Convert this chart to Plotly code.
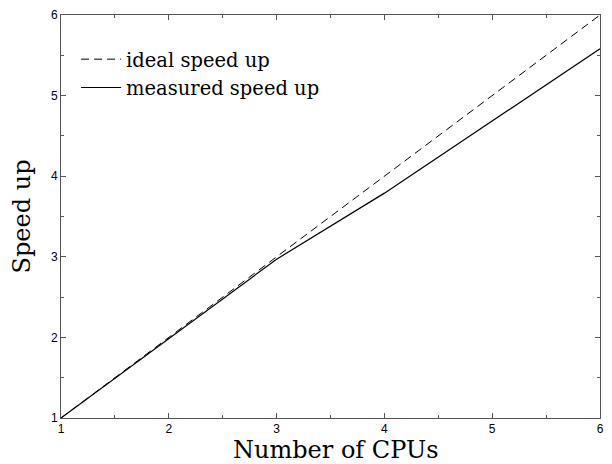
import plotly.graph_objects as go

cpus = [1, 2, 3, 4, 5, 6]
ideal = [1, 2, 3, 4, 5, 6]
measured = [1, 1.98, 2.97, 3.79, 4.69, 5.58]

x_title = "Number of CPUs"
y_title = "Speed up"

fig = go.Figure()
fig.add_trace(go.Scatter(x=cpus, y=ideal, mode="lines", name="ideal speed up",
                         line=dict(color="black", width=1, dash="8px,5px")))
fig.add_trace(go.Scatter(x=cpus, y=measured, mode="lines", name="measured speed up",
                         line=dict(color="black", width=1.2)))

serif = "DejaVu Serif, Liberation Serif, serif"

axis_common = dict(
    showgrid=False, zeroline=False, showline=True, linecolor="#555", linewidth=1,
    mirror="allticks", ticks="inside", ticklen=5, tickcolor="#555",
    tickfont=dict(family="Liberation Sans, Arial", size=12, color="black"),
    dtick=1, automargin=False,
    minor=dict(ticks="inside", ticklen=3, dtick=0.5, tickcolor="#555", showgrid=False),
)

fig.update_xaxes(range=[1, 6], tick0=1, **axis_common)
fig.update_yaxes(range=[1, 6], tick0=1, **axis_common)

fig.add_annotation(text=x_title, xref="paper", yref="paper", x=0.51, y=0,
                   xanchor="center", yanchor="middle", yshift=-32, showarrow=False,
                   font=dict(family=serif, size=24, color="black"))
fig.add_annotation(text=y_title, xref="paper", yref="paper", x=0, y=0.5,
                   xanchor="center", yanchor="middle", xshift=-40, textangle=-90,
                   showarrow=False, font=dict(family=serif, size=24, color="black"))

fig.update_layout(
    width=604, height=456,
    margin=dict(l=53, r=12, t=7, b=46),
    plot_bgcolor="white", paper_bgcolor="white",
    legend=dict(x=0.028, y=0.938, xanchor="left", yanchor="top",
                font=dict(family=serif, size=19.5, color="black"),
                bgcolor="rgba(0,0,0,0)", tracegroupgap=0, itemwidth=40),
    showlegend=True,
)

fig.write_html("out.html")
